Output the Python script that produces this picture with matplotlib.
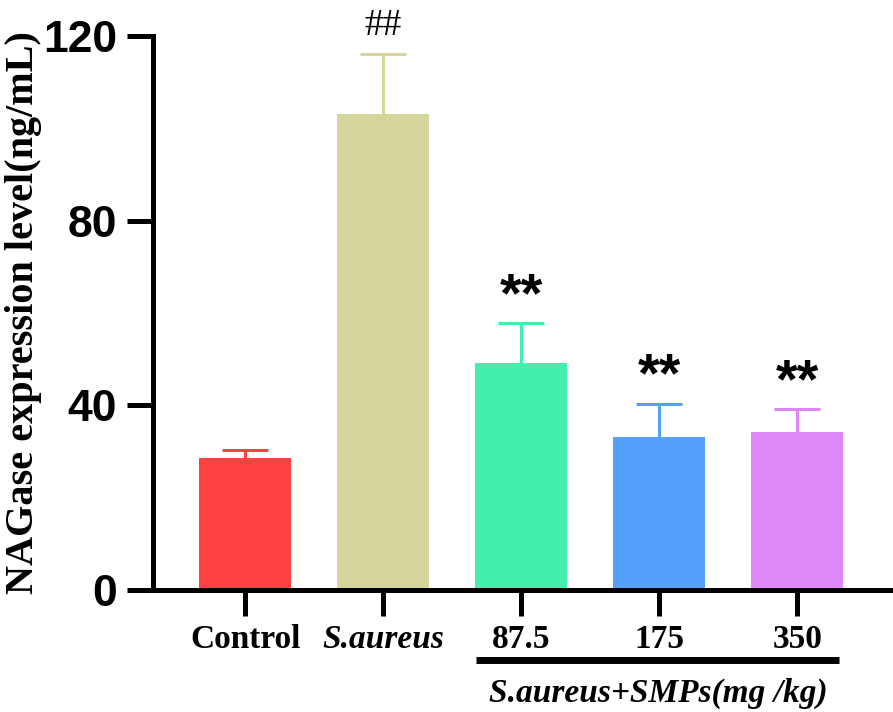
import matplotlib.pyplot as plt
import matplotlib.transforms as mtransforms
import numpy as np

# data
groups = ["Control", "S.aureus", "87.5", "175", "350"]
values = [28.5, 103.2, 49.2, 33.2, 34.2]
errors = [1.8, 12.9, 8.6, 7.2, 5.0]
marks = ["", "##", "**", "**", "**"]
colors = ["#FF4141", "#D6D59B", "#44EFAD", "#55A0FA", "#DD88F6"]
yticks = [0, 40, 80, 120]

serif = "Liberation Serif"
sans = "Liberation Sans"

fig = plt.figure(figsize=(8.93, 7.12), dpi=100)
ax = fig.add_axes([0.1713, 0.1713, 0.8264, 0.7781])

x = np.arange(len(groups))
ax.bar(x, values, width=0.667, color=colors, zorder=2)
for i in range(len(groups)):
    eb = ax.errorbar(x[i], values[i], yerr=[[0], [errors[i]]], fmt="none",
                     ecolor=colors[i], elinewidth=2.2, capsize=16.5, capthick=2.2, zorder=1)
    eb[1][0].set_visible(False)  # no lower cap
    if marks[i] == "##":
        ax.annotate(marks[i], (x[i], values[i] + errors[i]), xytext=(0, 8),
                    textcoords="offset points", ha="center", va="bottom",
                    fontsize=27, family=serif)
    elif marks[i]:
        ax.annotate(marks[i], (x[i], values[i] + errors[i]), xytext=(0, 0),
                    textcoords="offset points", ha="center", va="bottom",
                    fontsize=40, fontweight="bold", family=sans)

ax.set_ylim(0, 120)
ax.set_xlim(-0.67, 4.68)
ax.set_yticks(yticks)
ax.set_yticklabels([str(t) for t in yticks], fontsize=32, fontweight="bold", family=sans)
ax.set_xticks(x)
ax.set_xticklabels(groups, fontsize=24, fontweight="bold", family=serif)
ax.get_xticklabels()[1].set_style("italic")

for s in ["top", "right"]:
    ax.spines[s].set_visible(False)
for s in ["left", "bottom"]:
    ax.spines[s].set_linewidth(3.6)
ax.tick_params(axis="both", length=18.7, width=3.6)
ax.tick_params(axis="y", pad=7)
ax.tick_params(axis="x", pad=6)

ax.set_ylabel("NAGase expression level(ng/mL)", fontsize=29, fontweight="bold", family=serif)
ax.yaxis.set_label_coords(-0.151, 0.5)

# group bracket under the SMP doses
trans = mtransforms.blended_transform_factory(ax.transData, ax.transAxes)
ax.plot([1.675, 4.303], [-0.1264, -0.1264], color="black", lw=5, transform=trans,
        clip_on=False, solid_capstyle="butt")
ax.text(2.99, -0.186, "S.aureus+SMPs(mg /kg)", transform=trans, ha="center", va="center",
        fontsize=24, fontweight="bold", style="italic", family=serif)

fig.savefig("out.png", dpi=100)
